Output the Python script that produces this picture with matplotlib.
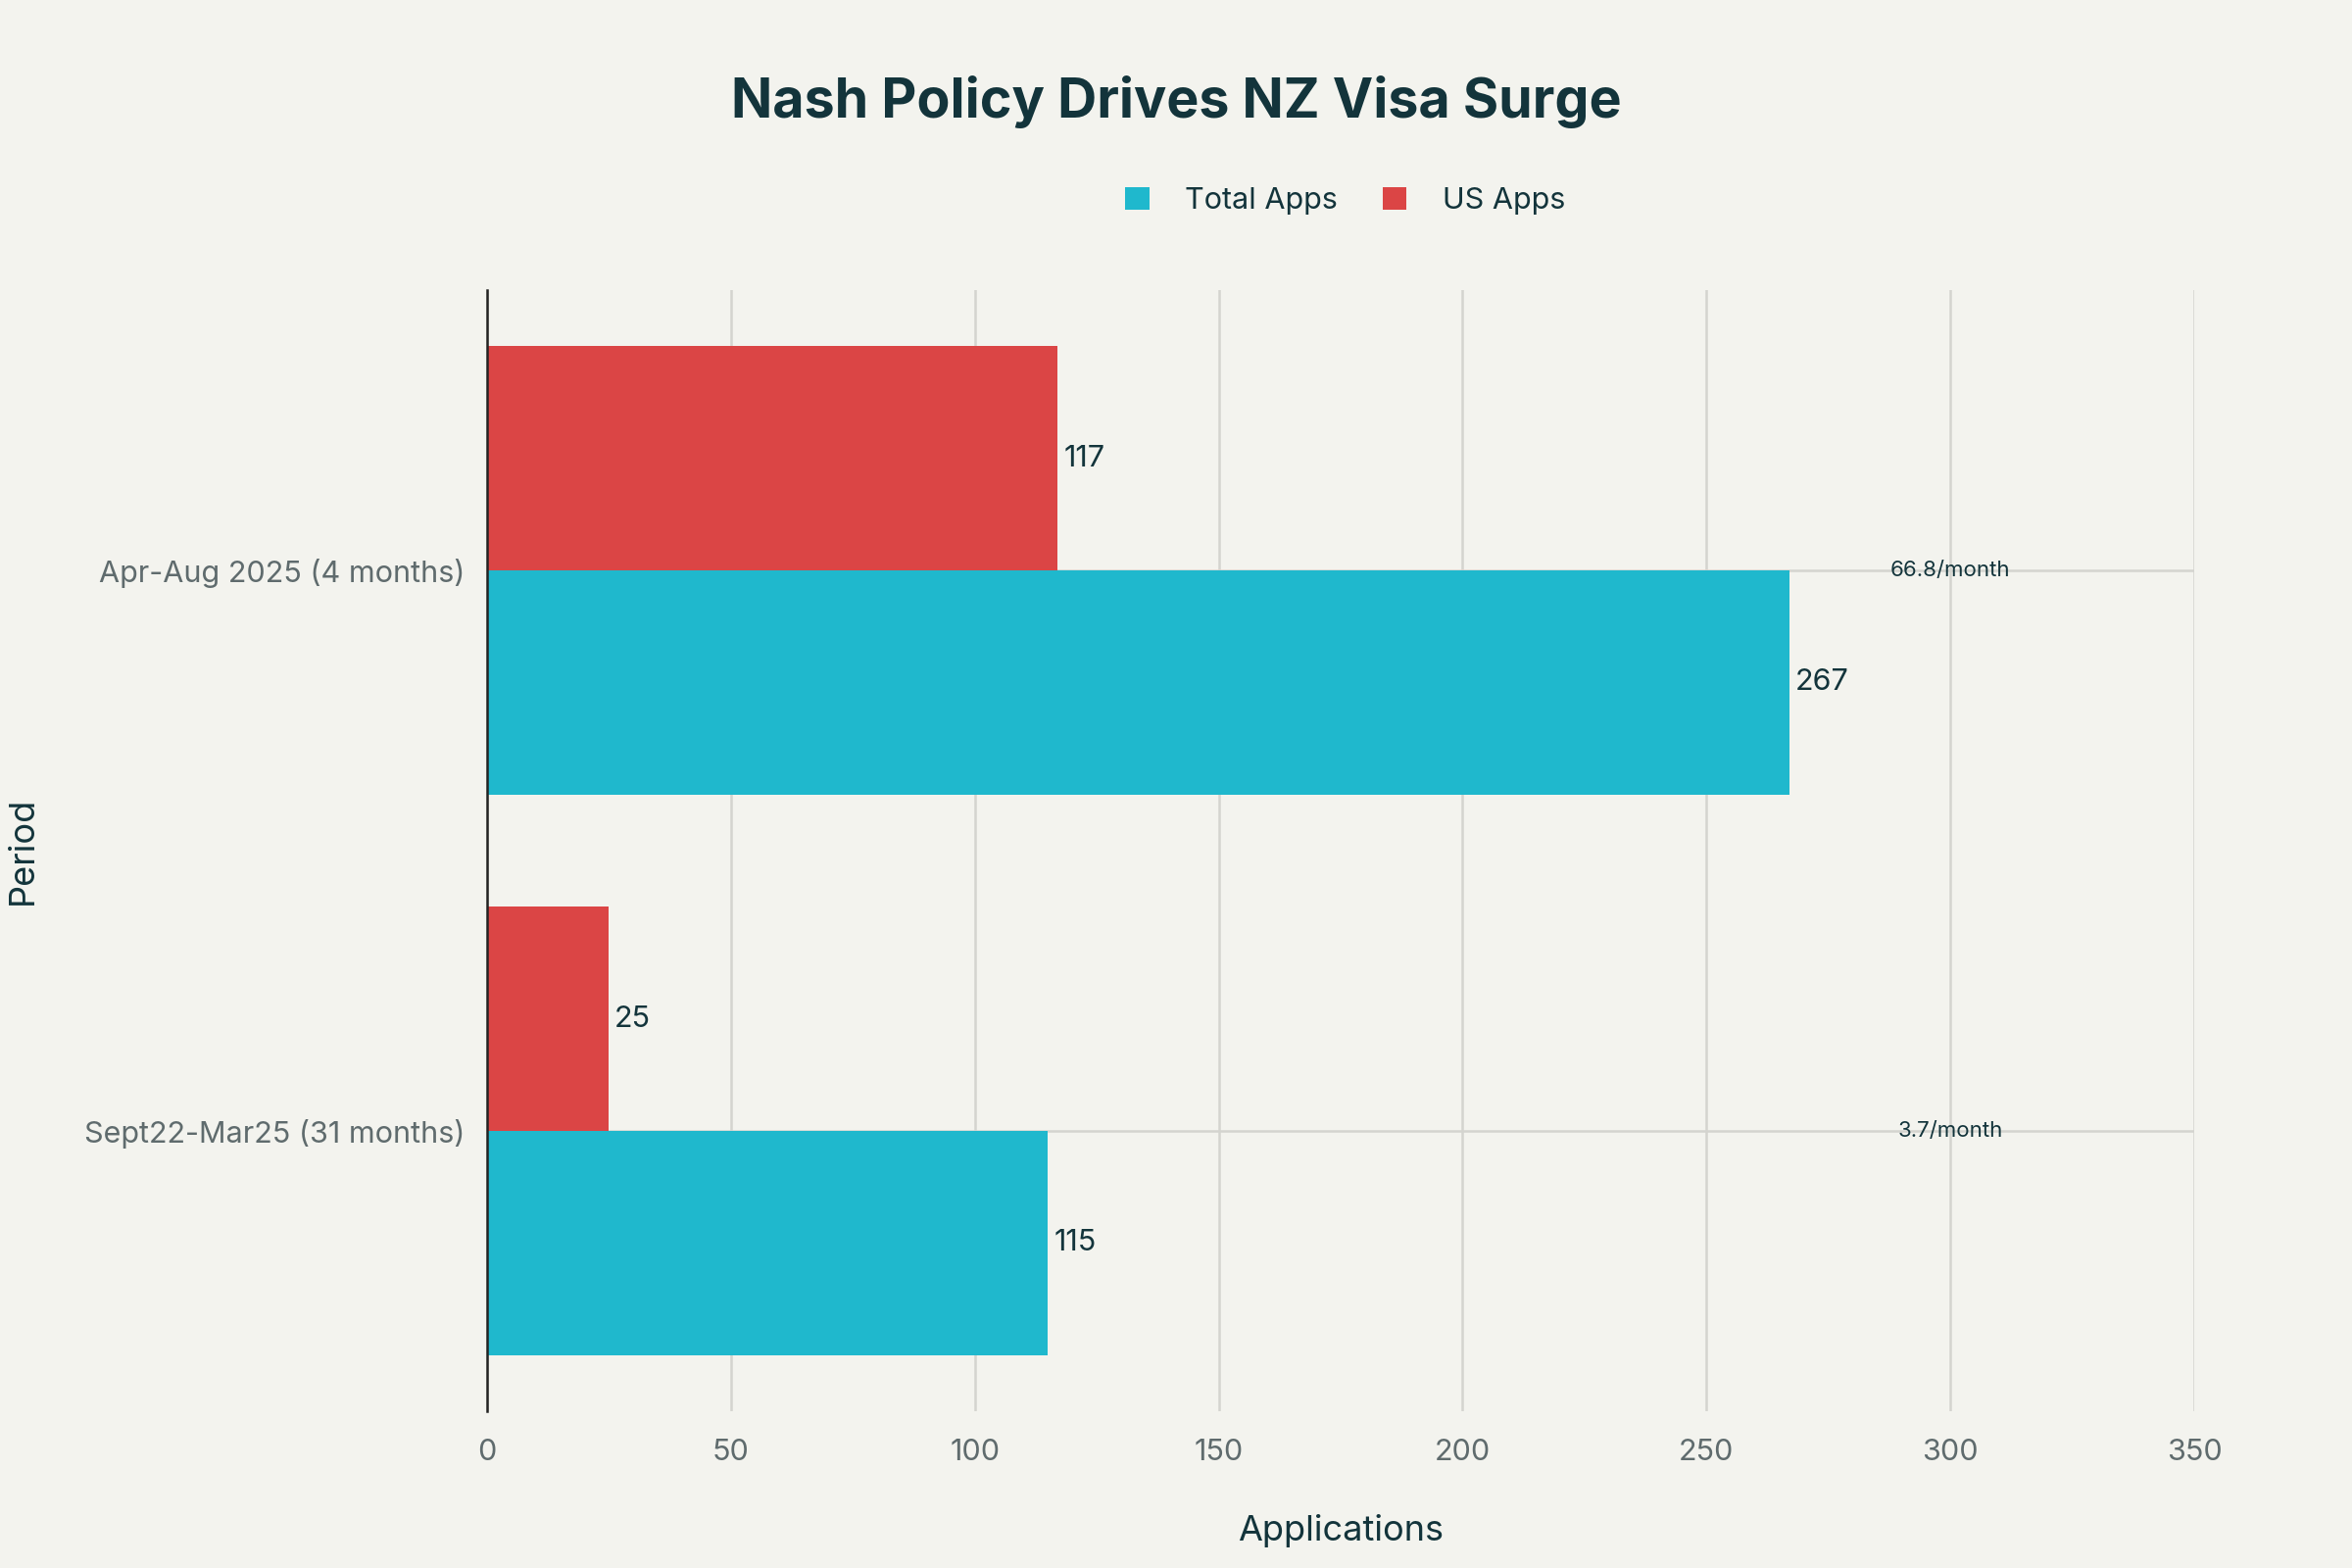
import numpy as np
import matplotlib.pyplot as plt

# data
periods = ["Sept22-Mar25 (31 months)", "Apr-Aug 2025 (4 months)"]
total_apps = [115, 267]
us_apps = [25, 117]
monthly_rate = ["3.7/month", "66.8/month"]
x_ticks = [0, 50, 100, 150, 200, 250, 300, 350]

bg = "#F3F3EE"
teal = "#1FB8CD"
red = "#DB4545"
dark = "#13343B"
gray = "#5f6b6d"

plt.rcParams['font.family'] = ['Inter', 'DejaVu Sans']

fig = plt.figure(figsize=(12, 8), dpi=200, facecolor=bg)
ax = fig.add_axes([0.207, 0.100, 0.726, 0.715], facecolor=bg)

y = np.arange(len(periods))
h = 0.4
b_total = ax.barh(y - h / 2, total_apps, height=h, color=teal, label="Total Apps", zorder=3)
b_us = ax.barh(y + h / 2, us_apps, height=h, color=red, label="US Apps", zorder=3)

for bars in (b_total, b_us):
    for bar in bars:
        w = bar.get_width()
        ax.text(w + 1.2, bar.get_y() + bar.get_height() / 2, f"{int(w)}",
                va="center", ha="left", fontsize=11, color=dark, zorder=4)

# per-month annotations
for yi, txt in zip(y, monthly_rate):
    ax.text(300, yi, txt, ha="center", va="center", fontsize=8, color=dark, zorder=4)

ax.set_xlim(0, 350)
ax.set_ylim(-0.5, 1.5)
ax.set_xticks(x_ticks)
ax.set_yticks(y)
ax.set_yticklabels(periods)

ax.grid(axis="x", color="#d4d4cf", linewidth=0.9, zorder=0)
for yi in y:
    ax.axhline(yi, color="#d4d4cf", linewidth=0.9, zorder=1)

for s in ("top", "right", "bottom"):
    ax.spines[s].set_visible(False)
ax.spines["left"].set_color("#222222")
ax.spines["left"].set_linewidth(0.9)
ax.spines["left"].set_zorder(5)

ax.tick_params(axis="both", length=0, labelsize=11, labelcolor=gray, pad=8)
ax.tick_params(axis="x", pad=10)

ax.set_xlabel("Applications", fontsize=13, color=dark)
ax.xaxis.set_label_coords(0.5, -0.092)
ax.set_ylabel("Period", fontsize=13, color=dark)
ax.yaxis.set_label_coords(-0.262, 0.5)

fig.text(0.5, 0.935, "Nash Policy Drives NZ Visa Surge", fontsize=20, fontweight="bold",
         color=dark, ha="center", va="center")

fig.legend([b_total, b_us], ["Total Apps", "US Apps"], loc="center",
           bbox_to_anchor=(0.572, 0.872), ncol=2, frameon=False,
           fontsize=11, labelcolor=dark, handlelength=0.8, handleheight=0.8,
           columnspacing=1.5, handletextpad=1.2)

fig.savefig("out.png", facecolor=bg)
